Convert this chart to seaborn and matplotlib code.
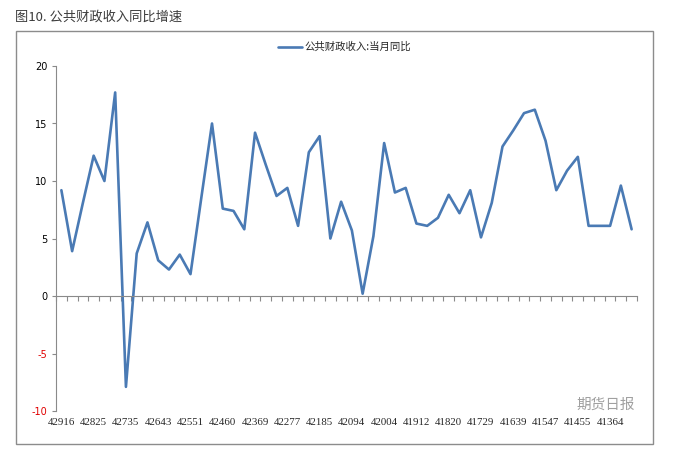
import numpy as np
import pandas as pd
import matplotlib
matplotlib.use("Agg")
import matplotlib.pyplot as plt
import seaborn as sns
from matplotlib.patches import Rectangle

# 月度数据, 2017-06 在最左, 倒序到 2013-01
months = pd.date_range("2013-01-31", "2017-06-30", freq="ME")[::-1]
serials = list((months - pd.Timestamp("1899-12-30")).days)   # Excel 日期序号

# 公共财政收入:当月同比 (%)
yoy = [9.2, 3.9, 8.1, 12.2, 10.0, 17.7, -7.9, 3.7, 6.4, 3.1,
       2.3, 3.6, 1.9, 8.5, 15.0, 7.6, 7.4, 5.8, 14.2, 11.4,
       8.7, 9.4, 6.1, 12.5, 13.9, 5.0, 8.2, 5.7, 0.2, 5.2,
       13.3, 9.0, 9.4, 6.3, 6.1, 6.8, 8.8, 7.2, 9.2, 5.1,
       8.1, 13.0, 14.4, 15.9, 16.2, 13.5, 9.2, 10.9, 12.1, 6.1,
       6.1, 6.1, 9.6, 5.8]
y_ticks = [-10, -5, 0, 5, 10, 15, 20]

series_name = "公共财政收入:当月同比"
title = "图10. 公共财政收入同比增速"

df = pd.DataFrame({"idx": np.arange(len(yoy)), "yoy": yoy})

sns.set_style("white")
plt.rcParams["font.family"] = ["Noto Sans CJK SC", "DejaVu Sans"]

W, H = 688, 465
fig = plt.figure(figsize=(W / 100, H / 100), dpi=100)
ax = fig.add_axes([56 / W, 1 - 411 / H, 581 / W, 345 / H])

sns.lineplot(data=df, x="idx", y="yoy", ax=ax, color="#4a7ab4",
             linewidth=1.9, label=series_name)

n = len(yoy)
ax.set_xlim(-0.5, n - 0.5)
ax.set_ylim(-10, 20)
ax.set_xlabel("")
ax.set_ylabel("")

axis_grey = "#8a8a8a"
for s in ["top", "right"]:
    ax.spines[s].set_visible(False)
ax.spines["left"].set_color(axis_grey)
ax.spines["bottom"].set_color(axis_grey)
ax.spines["bottom"].set_position(("data", 0))

# 类别之间的刻度线 (white 风格默认关掉了刻度, 重新打开)
ax.set_xticks(np.arange(n + 1) - 0.5, labels=[""] * (n + 1))
ax.tick_params(axis="x", bottom=True, length=3.5, width=0.8,
               color=axis_grey, direction="out")

ax.set_yticks(y_ticks, labels=[str(v) for v in y_ticks])
ax.tick_params(axis="y", left=True, length=3, width=0.8, color=axis_grey,
               direction="out", pad=3, labelsize=7)
for v, lbl in zip(y_ticks, ax.get_yticklabels()):
    lbl.set_color("#e00000" if v < 0 else "black")
    lbl.set_family(["DejaVu Sans"])

# 日期标签放在底部
sec = ax.secondary_xaxis("bottom")
sec.set_xticks(df["idx"][::3], labels=[str(s) for s in serials[::3]])
sec.tick_params(bottom=True, length=0, pad=5, labelsize=7.8)
sec.spines["bottom"].set_visible(False)
for lbl in sec.get_xticklabels():
    lbl.set_family(["Liberation Serif"])

ax.legend(loc="center", bbox_to_anchor=(0.497, (411 - 47) / 345),
          frameon=False, fontsize=7.5, handlelength=2.3, handletextpad=0.2)

fig.text(15 / W, 1 - 17.5 / H, title, fontsize=9.5, color="#3c3c3c",
         va="center", ha="left")

fig.add_artist(Rectangle((16 / W, 1 - 444 / H), (653 - 16) / W, (444 - 31) / H,
                         transform=fig.transFigure, fill=False,
                         edgecolor="#8c8c8c", linewidth=1))

# 水印
fig.text(606 / W, 1 - 405 / H, "期货日报", fontsize=10.5, color="#8f8f8f",
         ha="center", va="center", alpha=0.85)

fig.savefig("out.png", dpi=100)
